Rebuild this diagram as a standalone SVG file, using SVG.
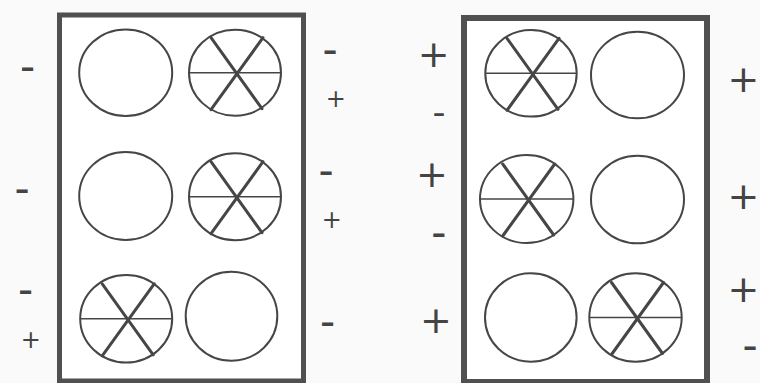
<svg xmlns="http://www.w3.org/2000/svg" xmlns:xlink="http://www.w3.org/1999/xlink" width="760" height="383" viewBox="0 0 760 383">
<style>
.bg{fill:#fafafa}
.box{fill:#ffffff;stroke:#505050}
.c{fill:none;stroke:#464646;stroke-width:2}
.h{stroke:#464646;stroke-width:1.5}
.d{stroke:#464646;stroke-width:3;stroke-linecap:round}
.p{font-family:"DejaVu Sans",sans-serif;fill:#444;text-anchor:middle}
.m{font-family:"DejaVu Sans",sans-serif;fill:#444;text-anchor:middle}
</style>
<defs>
<g id="slash">
<line class="d" x1="-24" y1="-35" x2="27" y2="36"/>
<line class="d" x1="28" y1="-35" x2="-24" y2="37"/>
</g>
</defs>
<rect class="bg" x="0" y="0" width="760" height="383"/>
<g id="box-left"><rect class="box" x="59.5" y="15" width="244" height="366" stroke-width="5"/></g>
<g id="box-right"><rect class="box" x="464" y="18" width="243" height="364" stroke-width="6"/></g>

<g id="L1a"><ellipse class="c" cx="125.7" cy="72.7" rx="46.5" ry="43.3"/></g>
<g id="L1b"><ellipse class="c" cx="235" cy="72.7" rx="46" ry="43"/><line class="h" x1="189" y1="72.7" x2="281" y2="72.7"/><use xlink:href="#slash" href="#slash" x="235" y="72.7"/></g>
<g id="L2a"><ellipse class="c" cx="125.7" cy="196" rx="46.5" ry="44"/></g>
<g id="L2b"><ellipse class="c" cx="235" cy="196.7" rx="46" ry="43.5"/><line class="h" x1="189" y1="196.7" x2="281" y2="196.7"/><use xlink:href="#slash" href="#slash" x="235" y="196.7"/></g>
<g id="L3a"><ellipse class="c" cx="126.2" cy="318.8" rx="46" ry="43.8"/><line class="h" x1="80.2" y1="318.8" x2="172.2" y2="318.8"/><use xlink:href="#slash" href="#slash" x="126.2" y="318.8"/></g>
<g id="L3b"><ellipse class="c" cx="231.5" cy="316.2" rx="45.8" ry="44.5"/></g>

<g id="R1a"><ellipse class="c" cx="531" cy="73.3" rx="45.7" ry="43.3"/><line class="h" x1="485.3" y1="73.3" x2="576.7" y2="73.3"/><use xlink:href="#slash" href="#slash" x="531" y="73.3"/></g>
<g id="R1b"><ellipse class="c" cx="637.5" cy="75" rx="46.5" ry="43.3"/></g>
<g id="R2a"><ellipse class="c" cx="526.7" cy="199" rx="46.7" ry="44"/><line class="h" x1="480" y1="199" x2="573.4" y2="199"/><use xlink:href="#slash" href="#slash" x="526.7" y="199"/></g>
<g id="R2b"><ellipse class="c" cx="637.5" cy="199.5" rx="46.5" ry="43.8"/></g>
<g id="R3a"><ellipse class="c" cx="530.8" cy="317.5" rx="45.8" ry="44.2"/></g>
<g id="R3b"><ellipse class="c" cx="635.5" cy="317.5" rx="46.2" ry="44.2"/><line class="h" x1="589.3" y1="317.5" x2="681.7" y2="317.5"/><use xlink:href="#slash" href="#slash" x="635.5" y="317.5"/></g>

<g id="labels">
<text class="m" x="27.5" y="80.9" font-size="42">-</text>
<text class="m" x="22" y="203.3" font-size="42">-</text>
<text class="m" x="25.5" y="303.9" font-size="42">-</text>
<text class="p" x="30.8" y="347.7" font-size="24">+</text>

<text class="m" x="330" y="64.3" font-size="42">-</text>
<text class="p" x="335.8" y="107" font-size="24">+</text>
<text class="m" x="326" y="184.9" font-size="42">-</text>
<text class="p" x="331.7" y="228.4" font-size="24">+</text>
<text class="m" x="327.5" y="335.9" font-size="42">-</text>

<text class="p" x="433.7" y="66.5" font-size="38">+</text>
<text class="m" x="439" y="124" font-size="36">-</text>
<text class="p" x="432" y="187.2" font-size="38">+</text>
<text class="m" x="438.8" y="246.6" font-size="42">-</text>
<text class="p" x="436" y="332.9" font-size="38">+</text>

<text class="p" x="743.5" y="92.2" font-size="38">+</text>
<text class="p" x="743.5" y="208.9" font-size="38">+</text>
<text class="p" x="743.5" y="301.5" font-size="38">+</text>
<text class="m" x="750" y="359.9" font-size="42">-</text>
</g>
</svg>
